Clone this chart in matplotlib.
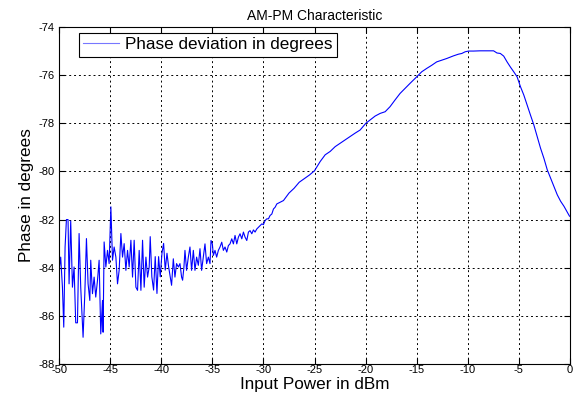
import matplotlib
matplotlib.use("Agg")
import matplotlib.pyplot as plt

plt.rcParams['font.family'] = ['Liberation Sans', 'DejaVu Sans']

# Noisy low-power region
x_low = [-50.0, -49.84, -49.67, -49.54, -49.41, -49.28, -49.12, -49.02, -48.86, -48.69,
         -48.53, -48.37, -48.20, -48.04, -47.88, -47.65, -47.48, -47.32, -47.16, -46.99,
         -46.90, -46.73, -46.57, -46.41, -46.24, -46.08, -45.92, -45.75, -45.69, -45.59,
         -45.42, -45.26, -45.10, -44.93, -44.77, -44.61, -44.44, -44.28, -44.12, -43.95,
         -43.79, -43.63, -43.46, -43.30, -43.14, -42.97, -42.81, -42.65, -42.48, -42.32,
         -42.16, -41.99, -41.83, -41.67, -41.50, -41.34, -41.18, -41.08, -40.92, -40.75,
         -40.59, -40.42, -40.26, -40.10, -39.93, -39.77, -39.61, -39.44, -39.28]
y_low = [-84.11, -83.56, -84.81, -86.47, -83.14, -82.00, -82.00, -84.67, -82.06, -84.81,
         -83.97, -86.29, -86.29, -82.58, -84.81, -86.89, -85.08, -82.79, -84.67, -85.36,
         -83.69, -85.08, -84.39, -85.22, -84.53, -83.69, -86.75, -85.36, -86.68, -82.93,
         -83.97, -83.28, -83.83, -81.47, -83.69, -83.14, -83.56, -84.67, -84.11, -82.58,
         -83.56, -83.00, -84.11, -83.28, -83.97, -82.86, -84.39, -82.86, -84.81, -84.94,
         -83.28, -84.94, -82.86, -84.81, -83.56, -84.39, -83.97, -82.71, -84.38, -84.93,
         -83.54, -85.07, -83.54, -84.38, -83.40, -82.99, -84.10, -83.40, -83.96]

# Middle region
x_mid = [-38.99, -38.82, -38.66, -38.50, -38.33, -38.17, -38.01, -37.91, -37.78, -37.68,
         -37.52, -37.35, -37.19, -37.03, -36.86, -36.70, -36.54, -36.37, -36.21, -36.05,
         -35.88, -35.72, -35.56, -35.39, -35.23, -35.13, -35.00, -34.90, -34.74, -34.58,
         -34.41, -34.25, -34.08, -33.92, -33.76, -33.59, -33.43, -33.27, -33.10, -32.94,
         -32.78, -32.61, -32.45, -32.29, -32.12, -31.96, -31.80, -31.63, -31.47, -31.31,
         -31.14, -30.98, -30.82, -30.65, -30.49, -30.33, -30.16, -30.00, -29.84, -29.67,
         -29.51, -29.35, -29.18, -29.02, -28.86, -28.69, -28.37, -28.04, -27.50, -27.00,
         -26.50, -26.00, -25.50]
y_mid = [-84.73, -83.63, -84.39, -83.83, -83.97, -83.83, -84.39, -84.52, -83.97, -83.28,
         -84.11, -83.56, -83.14, -84.11, -83.28, -84.11, -83.56, -83.90, -83.21, -84.11,
         -83.56, -83.01, -83.83, -83.56, -83.83, -82.87, -83.01, -83.49, -83.28, -83.56,
         -83.28, -83.14, -82.94, -83.28, -83.14, -83.35, -83.08, -83.01, -82.80, -83.01,
         -82.66, -83.01, -82.73, -82.59, -82.80, -82.52, -82.73, -82.87, -82.52, -82.46,
         -82.59, -82.43, -82.52, -82.39, -82.32, -82.25, -82.18, -82.21, -82.04, -81.97,
         -81.97, -81.83, -81.77, -81.56, -81.49, -81.35, -81.28, -81.21, -80.90, -80.70,
         -80.45, -80.30, -80.15]

# High-power region
x_high = [-25.00, -24.45, -23.96, -23.47, -22.98, -22.49, -22.00, -21.51, -21.03, -20.54,
          -19.98, -19.56, -19.07, -18.58, -18.09, -17.61, -17.12, -16.63, -16.14, -15.65,
          -15.00, -14.51, -14.02, -13.53, -13.05, -12.56, -12.07, -11.41, -10.92, -10.59,
          -10.26, -9.93, -9.44, -8.79, -8.13, -7.48, -7.15, -6.82, -6.49, -6.16,
          -5.84, -5.51, -5.18, -4.85, -4.52, -4.20, -3.87, -3.54, -3.21, -2.89,
          -2.56, -2.23, -1.90, -1.57, -1.25, -0.92, -0.59, -0.26, -0.05]
y_high = [-79.97, -79.59, -79.31, -79.17, -78.97, -78.83, -78.69, -78.55, -78.41, -78.28,
          -78.00, -77.86, -77.70, -77.59, -77.52, -77.31, -77.03, -76.76, -76.55, -76.34,
          -76.07, -75.86, -75.72, -75.59, -75.45, -75.38, -75.31, -75.20, -75.13, -75.10,
          -75.03, -75.00, -75.00, -74.99, -74.99, -74.99, -75.08, -75.10, -75.21, -75.45,
          -75.66, -75.86, -76.07, -76.48, -76.83, -77.24, -77.66, -78.07, -78.55, -79.03,
          -79.45, -79.93, -80.28, -80.62, -80.97, -81.24, -81.45, -81.70, -81.86]

x_vals = x_low + x_mid + x_high
y_vals = y_low + y_mid + y_high

x_ticks = [-50, -45, -40, -35, -30, -25, -20, -15, -10, -5, 0]
y_ticks = [-88, -86, -84, -82, -80, -78, -76, -74]

fig = plt.figure(figsize=(5.79, 4.01), dpi=100)
ax = fig.add_axes([0.102, 0.0923, 0.8825, 0.8404])
ax.plot(x_vals, y_vals, color='#0000ff', linewidth=0.8, label='Phase deviation in degrees')
ax.set_xlim(-50, 0)
ax.set_ylim(-88, -74)
ax.set_xticks(x_ticks)
ax.set_yticks(y_ticks)
ax.set_xticklabels([str(t) for t in x_ticks])
ax.set_yticklabels([str(t) for t in y_ticks])
ax.tick_params(direction='in', top=True, right=True, labelsize=8, length=4)
ax.tick_params(axis='x', pad=1)
ax.tick_params(axis='y', pad=3)
ax.grid(True, color='black', linestyle=(0, (2, 3)), linewidth=0.7)
for s in ax.spines.values():
    s.set_linewidth(0.8)
ax.set_title('AM-PM Characteristic', fontsize=10, pad=5)
ax.set_xlabel('Input Power in dBm', fontsize=12.3, labelpad=1)
ax.set_ylabel('Phase in degrees', fontsize=12.3, labelpad=3)
leg = ax.legend(loc='upper left', bbox_to_anchor=(0.039, 0.982), fontsize=12.3,
                fancybox=False, framealpha=1, edgecolor='black', borderaxespad=0,
                handlelength=2.1, handletextpad=0.35, borderpad=0.25)
leg.get_frame().set_linewidth(0.8)
leg.get_lines()[0].set_color('#7777ff')
fig.savefig('out.png', dpi=100)
